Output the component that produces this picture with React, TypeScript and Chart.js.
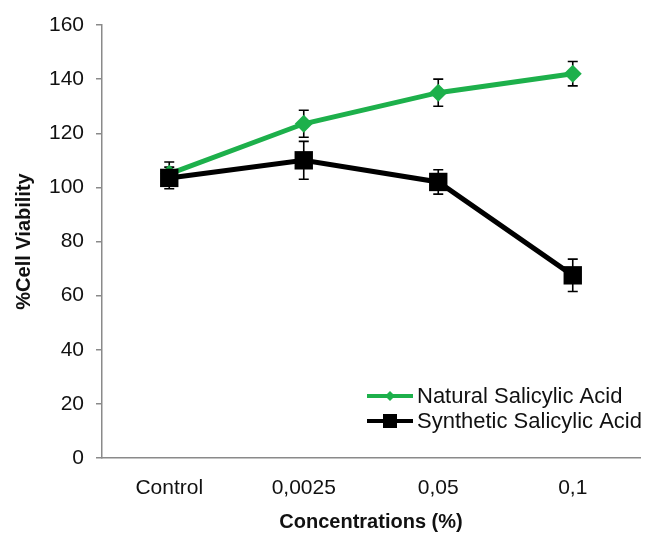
import React, { useEffect, useRef } from "react";
import { Chart, registerables } from "chart.js";

Chart.register(...registerables);

const categories = ["Control", "0,0025", "0,05", "0,1"];
const naturalLabel = "Natural Salicylic Acid";
const syntheticLabel = "Synthetic Salicylic Acid";
const naturalValues = [105, 123.5, 135, 142];
const naturalErrors = [4.4, 5, 5, 4.5];
const syntheticValues = [103.5, 110, 102, 67.5];
const syntheticErrors = [4, 7, 4.5, 6];
const yTicks = [0, 20, 40, 60, 80, 100, 120, 140, 160];

const GREEN = "#1db04b";
const BLACK = "#000000";
const AXIS = "#8a8a8a";
const TEXT = "#111111";
const FONT = "'Liberation Sans', Arial, Helvetica, sans-serif";

const errorBarPlugin = {
  id: "errorBars",
  beforeDatasetsDraw(chart: any) {
    const ctx = chart.ctx;
    const y = chart.scales.y;
    chart.data.datasets.forEach((ds: any, i: number) => {
      const meta = chart.getDatasetMeta(i);
      const errs: number[] = ds.errors || [];
      ctx.save();
      ctx.strokeStyle = "#000";
      ctx.lineWidth = 1.6;
      meta.data.forEach((pt: any, j: number) => {
        const v = ds.data[j];
        const e = errs[j];
        const x = pt.x;
        const yt = y.getPixelForValue(v + e);
        const yb = y.getPixelForValue(v - e);
        ctx.beginPath();
        ctx.moveTo(x, yt);
        ctx.lineTo(x, yb);
        ctx.moveTo(x - 5, yt);
        ctx.lineTo(x + 5, yt);
        ctx.moveTo(x - 5, yb);
        ctx.lineTo(x + 5, yb);
        ctx.stroke();
      });
      ctx.restore();
    });
  },
};

const legendPlugin = {
  id: "insideLegend",
  afterDraw(chart: any) {
    const ctx = chart.ctx;
    const area = chart.chartArea;
    const rows = [
      { label: naturalLabel, color: GREEN, marker: "diamond" },
      { label: syntheticLabel, color: BLACK, marker: "square" },
    ];
    const x0 = area.left + 265;
    const x1 = x0 + 46;
    ctx.save();
    rows.forEach((r, i) => {
      const yy = area.bottom - 62 + i * 25;
      ctx.strokeStyle = r.color;
      ctx.lineWidth = 4;
      ctx.beginPath();
      ctx.moveTo(x0, yy);
      ctx.lineTo(x1, yy);
      ctx.stroke();
      const cx = (x0 + x1) / 2;
      ctx.fillStyle = r.color;
      ctx.beginPath();
      if (r.marker === "diamond") {
        ctx.moveTo(cx, yy - 5);
        ctx.lineTo(cx + 5, yy);
        ctx.lineTo(cx, yy + 5);
        ctx.lineTo(cx - 5, yy);
        ctx.closePath();
      } else {
        ctx.rect(cx - 7, yy - 7, 14, 14);
      }
      ctx.fill();
      ctx.fillStyle = TEXT;
      ctx.font = `22px ${FONT}`;
      ctx.textBaseline = "middle";
      ctx.textAlign = "left";
      ctx.fillText(r.label, x1 + 4, yy + 1);
    });
    ctx.restore();
  },
};

export default function App() {
  const ref = useRef<HTMLCanvasElement | null>(null);

  useEffect(() => {
    document.body.style.margin = "0";
    if (!ref.current) return;
    const chart = new Chart(ref.current, {
      type: "line",
      data: {
        labels: categories,
        datasets: [
          {
            label: naturalLabel,
            data: naturalValues,
            errors: naturalErrors,
            borderColor: GREEN,
            backgroundColor: GREEN,
            borderWidth: 5,
            pointStyle: "rectRot",
            pointRadius: 9,
            pointBorderWidth: 0,
            pointBackgroundColor: GREEN,
            tension: 0,
            order: 1,
          } as any,
          {
            label: syntheticLabel,
            data: syntheticValues,
            errors: syntheticErrors,
            borderColor: BLACK,
            backgroundColor: BLACK,
            borderWidth: 5,
            pointStyle: "rect",
            pointRadius: 13,
            pointBorderWidth: 0,
            pointBackgroundColor: BLACK,
            tension: 0,
            order: 0,
          } as any,
        ],
      },
      options: {
        animation: false,
        responsive: false,
        layout: { autoPadding: false, padding: { top: 25, right: 7, left: 0, bottom: 0 } },
        plugins: {
          legend: { display: false },
          tooltip: { enabled: false },
        },
        scales: {
          x: {
            offset: true,
            grid: { display: true, drawOnChartArea: false, drawTicks: true, tickLength: 18, color: "rgba(0,0,0,0)" },
            border: { display: true, color: AXIS, width: 1.5 },
            ticks: { color: TEXT, font: { family: FONT, size: 21 }, padding: 0 },
            title: {
              display: true,
              text: "Concentrations (%)",
              color: TEXT,
              font: { family: FONT, size: 20, weight: "bold" },
              padding: { top: 0, bottom: 3 },
            },
            afterFit(scale: any) {
              scale.height = 79;
            },
          },
          y: {
            min: 0,
            max: 160,
            afterBuildTicks(scale: any) {
              scale.ticks = yTicks.map((v) => ({ value: v }));
            },
            grid: { display: true, drawOnChartArea: false, drawTicks: true, tickLength: 6, color: AXIS, lineWidth: 1.5 },
            border: { display: true, color: AXIS, width: 1.5 },
            ticks: { color: TEXT, font: { family: FONT, size: 21 }, padding: 12 },
            title: {
              display: true,
              text: "%Cell Viability",
              color: TEXT,
              font: { family: FONT, size: 20, weight: "bold" },
              padding: { top: 12, bottom: 0 },
            },
            afterFit(scale: any) {
              scale.width = 102;
            },
          },
        },
      },
      plugins: [errorBarPlugin, legendPlugin],
    } as any);
    return () => chart.destroy();
  }, []);

  return <canvas ref={ref} width={647} height={537} style={{ display: "block" }} />;
}
